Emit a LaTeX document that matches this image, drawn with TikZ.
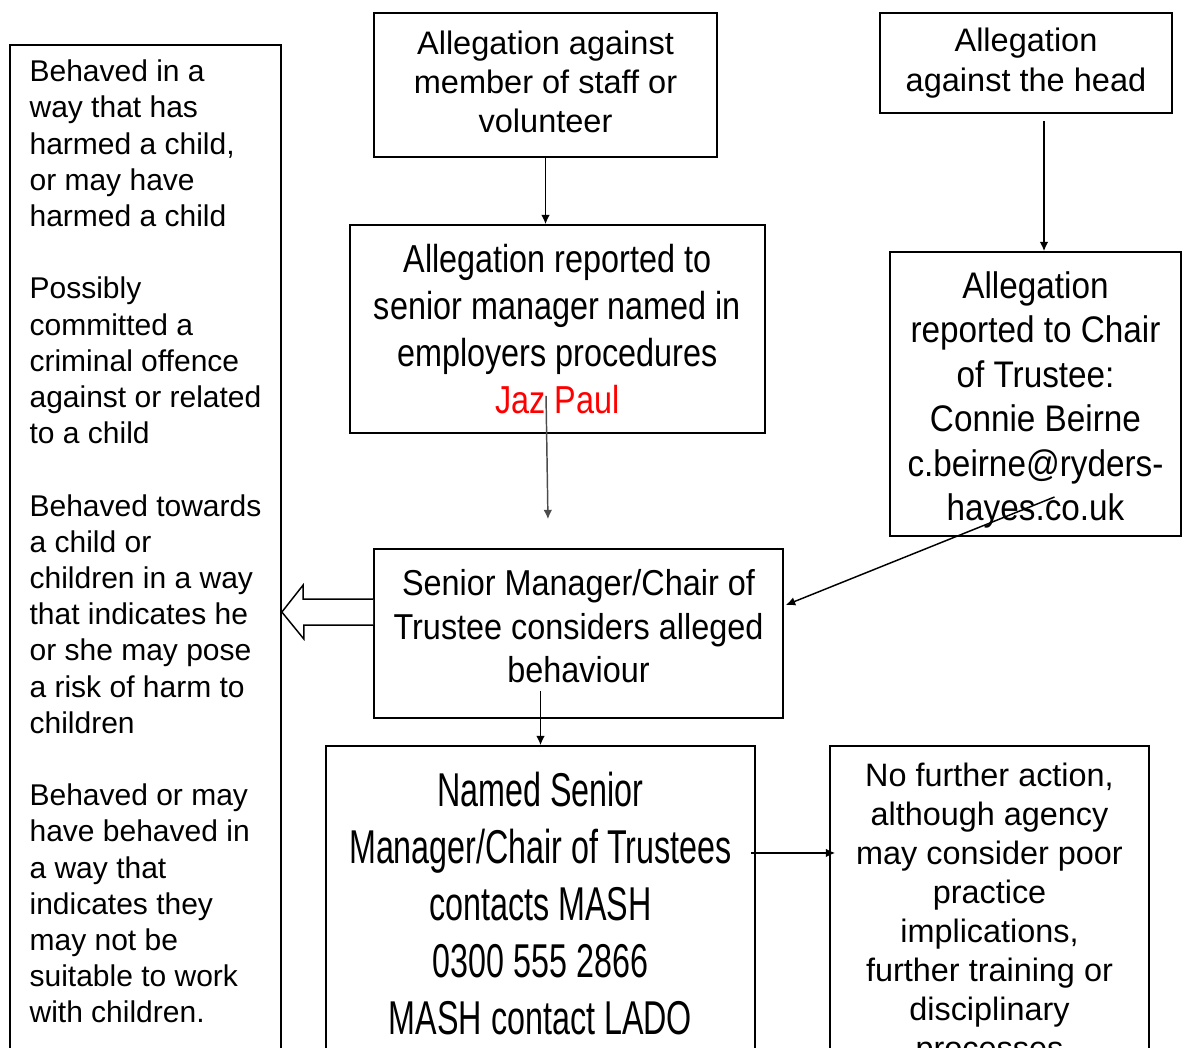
\documentclass[tikz,border=0pt]{standalone}
\usepackage{fontspec}
\setmainfont{Liberation Sans}
\newfontfamily\mgrfont[FakeStretch=0.83]{Liberation Sans}
\newfontfamily\chairfont[FakeStretch=0.9]{Liberation Sans}
\newfontfamily\mashfont[FakeStretch=0.68]{Liberation Sans}
\usetikzlibrary{shapes,arrows.meta}

\begin{document}
\begin{tikzpicture}[x=0.75pt, y=-0.75pt]

\tikzstyle{block} = [rectangle, draw, line width=1.3pt, inner sep=0pt, align=flush center]
\tikzstyle{line} = [draw, -{Latex[length=7pt,width=6.5pt]}, line width=1.1pt]
\tikzstyle{hollow} = [draw, line width=1.1pt, fill=white]

\useasboundingbox (0,0) rectangle (1182,1047);
\clip (0,0) rectangle (1182,1047);

\node [block, anchor=north, align=left, minimum width=203.25pt, inner xsep=0pt,
inner ysep=11.25pt, font=\fontsize{22.5pt}{27.15pt}\selectfont] (crit) at (145.5,44)
{Behaved in a\\way that has\\harmed a child,\\or may have\\harmed a child\\[27.15pt]
Possibly\\committed a\\criminal offence\\against or related\\to a child\\[27.15pt]
Behaved towards\\a child or\\children in a way\\that indicates he\\or she may pose\\a risk of harm to\\children\\[27.15pt]
Behaved or may\\have behaved in\\a way that\\indicates they\\may not be\\suitable to work\\with children.\\[40pt]~};

\node [block, minimum width=257.25pt, minimum height=108pt, text width=250pt, text height=13pt,
font=\fontsize{24.4pt}{29.6pt}\selectfont] (staff) at (545.5,85)
{Allegation against\\member of staff or\\volunteer};

\node [block, minimum width=219pt, minimum height=75pt, text width=212pt,
font=\fontsize{24.4pt}{29.6pt}\selectfont] (head) at (1026,63)
{Allegation\\against the head};

\node [block, minimum width=311.25pt, minimum height=156pt, text width=304pt,
font=\mgrfont\fontsize{29.25pt}{35.25pt}\selectfont] (manager) at (557.5,329)
{Allegation reported to\\senior manager named in\\employers procedures\\{\color{red}Jaz Paul}};

\node [block, minimum width=218.25pt, minimum height=213pt, text width=212pt, text height=28.9pt,
font=\chairfont\fontsize{27.75pt}{33.3pt}\selectfont] (chair) at (1035.5,394)
{Allegation\\reported to Chair\\of Trustee:\\Connie Beirne\\c.beirne@ryders-\\hayes.co.uk};

\node [block, minimum width=306.75pt, minimum height=126.75pt, text width=300pt, text height=8.85pt,
font=\chairfont\fontsize{27pt}{32.6pt}\selectfont] (considers) at (578.5,633.5)
{Senior Manager/Chair of\\Trustee considers alleged\\behaviour};

\node [block, minimum width=321.75pt, minimum height=236.25pt, text width=315pt,
font=\mashfont\fontsize{35.6pt}{42.6pt}\selectfont] (mash) at (540.5,903.5)
{Named Senior\\Manager/Chair of Trustees\\contacts MASH\\0300 555 2866\\MASH contact LADO};

\node [block, minimum width=239.25pt, minimum height=248.25pt, text width=232pt, text height=21.9pt,
font=\fontsize{24.3pt}{29.25pt}\selectfont] (action) at (989.5,911.5)
{No further action,\\although agency\\may consider poor\\practice\\implications,\\further training or\\disciplinary\\processes};

% connectors
\path [line] (staff.south) -- (staff.south |- manager.north);
\path [line] ([xshift=13.5pt,yshift=-5.25pt]head.south) -- ([xshift=13.5pt]head.south |- chair.north);
\path [line, black!70] ([xshift=-8.6pt,yshift=28.5pt]manager.south) -- ([xshift=-22.9pt,yshift=21.75pt]considers.north);
\path [line] ([xshift=14.25pt,yshift=-77.25pt]chair.center) -- ([xshift=1.5pt,yshift=21.4pt]considers.east);
\coordinate (c1) at ([yshift=21pt]considers.south);
\path [line] (c1 -| mash.north) -- (mash.north);
\path [line] ([xshift=-3.75pt,yshift=37.9pt]mash.east) -- ([xshift=4.5pt,yshift=43.9pt]action.west);

% hollow arrow to the list
\coordinate (tipbase) at ([yshift=16.1pt]considers.west);
\coordinate (tip) at (crit.east |- tipbase);
\path [hollow] ([yshift=9.75pt]tipbase) -- ++(-70,0) -- ++(0,-14) -- (tip) -- ++(22,27) -- ++(0,-14) -- ([yshift=-9.75pt]tipbase);

\end{tikzpicture}
\end{document}
